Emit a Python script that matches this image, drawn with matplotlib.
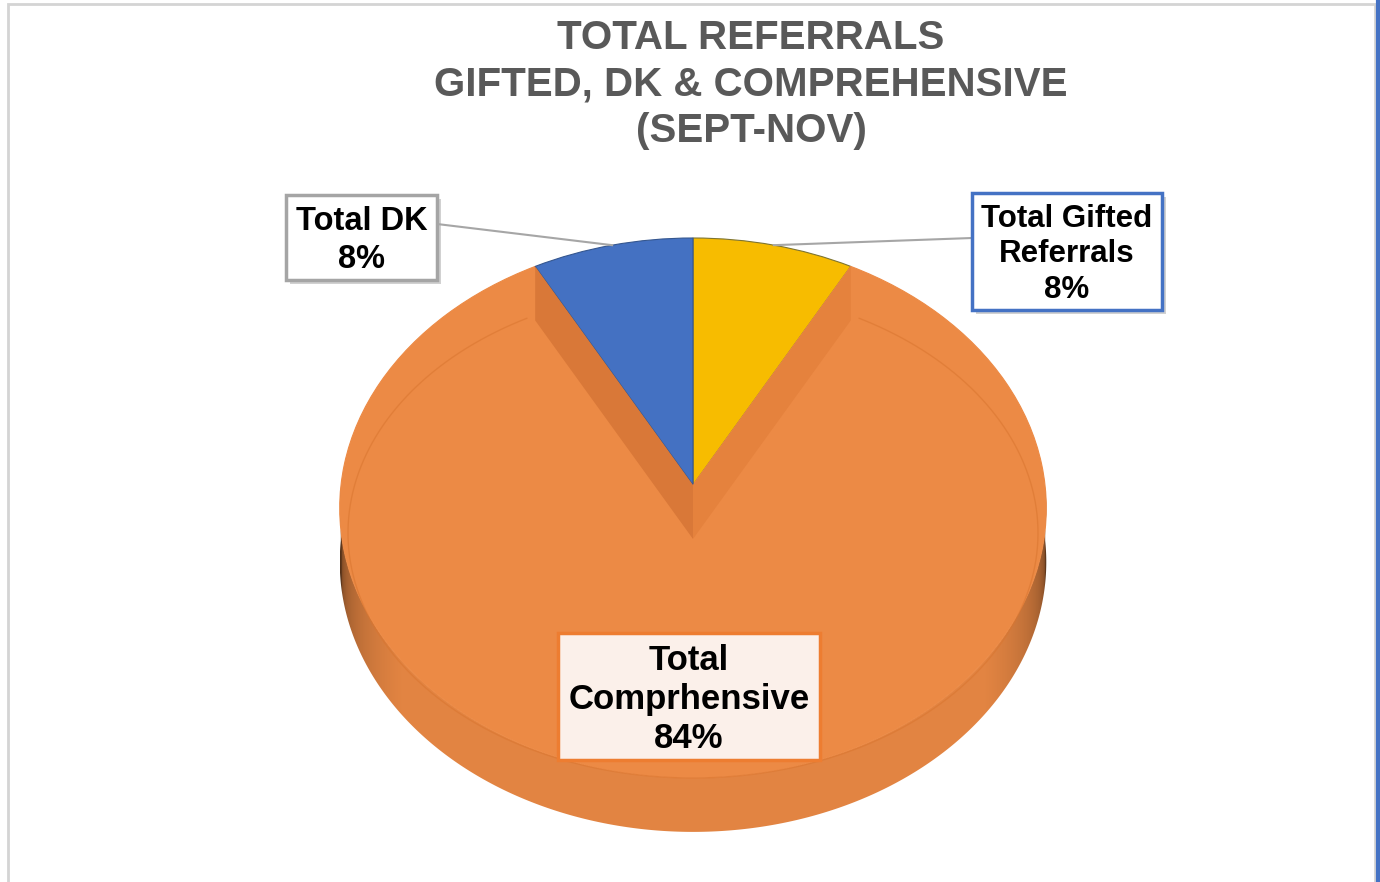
import numpy as np
import matplotlib
matplotlib.use('Agg')
import matplotlib.pyplot as plt
from matplotlib.patches import Rectangle, Polygon
from matplotlib.transforms import Transform
from matplotlib.colors import to_rgb

# data
categories = ['Total Gifted\nReferrals', 'Total\nComprhensive', 'Total DK']
shares = [8, 84, 8]
colors = ['#F7BC00', '#EC8A45', '#4471C2']
edge_colors = ['#7E7430', '#EC8A45', '#34568F']
box_edges = ['#4472C4', '#ED7D31', '#A5A5A5']
title_lines = ['TOTAL REFERRALS', 'GIFTED, DK & COMPREHENSIVE', '(SEPT-NOV)']

W, H = 1380, 882
fig = plt.figure(figsize=(W / 100, H / 100), dpi=100)
ax = fig.add_axes([0, 0, 1, 1])


class Tilt(Transform):
    """unit disk -> tilted disk seen in slight perspective (pixels, y up)"""
    input_dims = output_dims = 2

    def __init__(self, cx, cy, sx, sy, k):
        super().__init__()
        self.cx, self.cy, self.sx, self.sy, self.k = cx, cy, sx, sy, k

    def transform_non_affine(self, values):
        values = np.asarray(values, dtype=float)
        u, v = values[:, 0], values[:, 1]
        d = 1 + self.k * v
        return np.column_stack([self.cx + self.sx * u / d, self.cy + self.sy * v / d])


cx, cy = 693, H - 485
rx = 352
tilt = Tilt(cx, cy, rx, 268, 0.085)
depth = 54


def rim(t):
    t = np.radians(np.atleast_1d(t))
    return tilt.transform(np.column_stack([np.cos(t), np.sin(t)]))


wedges, _ = ax.pie(shares, colors=colors, startangle=90, counterclock=False,
                   center=(0, 0), radius=1, wedgeprops=dict(linewidth=0))
for w, ec in zip(wedges, edge_colors):
    w.set_transform(tilt + ax.transData)
    w.set_zorder(3)
    w.set_edgecolor(ec)
    w.set_linewidth(0.8)

# side wall (front part only), gradient darker towards the ends
for w, c in zip(wedges, colors):
    ts = np.linspace(w.theta1, w.theta2, 600)
    ts = ts[np.sin(np.radians(ts)) < 0]
    if len(ts) < 2:
        continue
    top = rim(ts)
    bottom = top[::-1] - [0, depth]
    side = Polygon(np.vstack([top, bottom]), closed=True, facecolor='none',
                   edgecolor='none', zorder=2)
    ax.add_patch(side)
    xs = np.linspace(top[:, 0].min(), top[:, 0].max(), 800)
    u = np.clip((xs - cx) / rx, -1, 1)
    shade = np.minimum(0.96, 0.36 + 0.8 * (1 - u ** 2) ** 0.25)
    img = np.clip(np.array(to_rgb(c))[None, None, :] * shade[None, :, None], 0, 1)
    im = ax.imshow(img, extent=(xs[0], xs[-1], bottom[:, 1].min() - 2, top[:, 1].max() + 2),
                   aspect='auto', interpolation='bilinear', zorder=2)
    im.set_clip_path(side)

# bevel faces of the big slice along the cut
big = wedges[1]
for t, c in [(big.theta1, '#D97838'), (big.theta2, '#E5823D')]:
    px, py = rim(t)[0]
    ax.add_patch(Polygon([(px, py), (cx, cy), (cx, cy - depth), (px, py - depth)],
                         closed=True, facecolor=c, edgecolor='none', zorder=4))
ts = np.radians(np.linspace(big.theta1, big.theta2, 400))
ax.plot(cx + 345 * np.cos(ts), (H - 533) + 245 * np.sin(ts),
        color='#D9752F', lw=1, alpha=0.55, zorder=4)

# labels
pcts = [f'{s:.0f}%' for s in shares]
boxes = [(972, 193, 190, 117), (558, 633, 262, 127), (286, 195, 151, 85)]
sizes = [22.5, 25, 23.5]
spacing = [1.22, 1.25, 1.28]
for i, (lab, pct) in enumerate(zip(categories, pcts)):
    bx, by, bw, bh = boxes[i]
    fc = '#FBF0EA' if i == 1 else 'white'
    if i != 1:
        ax.add_patch(Rectangle((bx + 4, H - by - bh - 4), bw, bh, facecolor='#000000',
                               alpha=0.18, edgecolor='none', zorder=5))
    ax.add_patch(Rectangle((bx, H - by - bh), bw, bh, facecolor=fc,
                           edgecolor=box_edges[i], lw=2.5, zorder=6))
    ax.text(bx + bw / 2, H - by - bh / 2 - 3, lab + '\n' + pct, ha='center', va='center',
            fontsize=sizes[i], fontweight='bold', family='Liberation Sans', color='black',
            linespacing=spacing[i], zorder=7)

# leader lines for the small slices
for i, (xe, ye) in [(0, (972, H - 238)), (2, (437, H - 224))]:
    w = wedges[i]
    px, py = rim((w.theta1 + w.theta2) / 2)[0]
    ax.plot([xe, px], [ye, py], color='#A6A6A6', lw=1.5, zorder=5)

# title
for yb, line in zip([49, 95.5, 142], title_lines):
    ax.text(751, H - yb, line, ha='center', va='baseline', fontsize=29,
            fontweight='bold', family='Liberation Sans', color='#595959')

# chart border
ax.add_patch(Rectangle((8, -5), 1367, H + 1, fill=False, edgecolor='#D4D4D4', lw=2))
ax.plot([1378, 1378], [0, H], color='#4472C4', lw=3)

ax.set_xlim(0, W)
ax.set_ylim(0, H)
ax.set_aspect('auto')
ax.axis('off')
fig.savefig('out.png', dpi=100)
